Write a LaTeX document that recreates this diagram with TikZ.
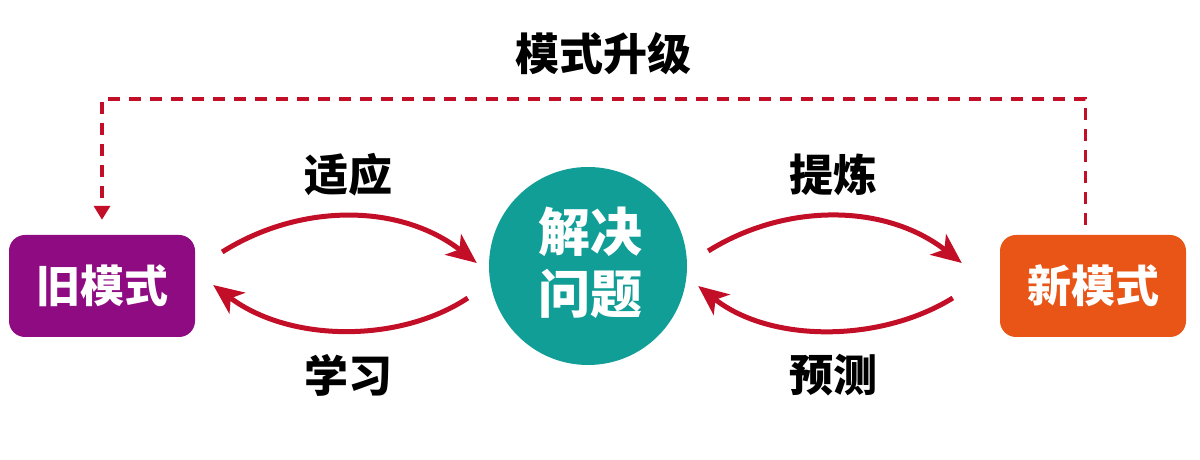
\documentclass[tikz,border=0pt]{standalone}
\usepackage{fontspec}
\setmainfont{Noto Sans CJK SC}
\usetikzlibrary{arrows.meta}
\definecolor{oldc}{HTML}{8E0B82}
\definecolor{newc}{HTML}{E85516}
\definecolor{teal}{HTML}{109E97}
\definecolor{arr}{HTML}{C20E26}
\tikzset{
  x=1pt,y=1pt,
  modebox/.style={rounded corners=16pt, minimum width=186pt, minimum height=102pt, inner sep=0pt, text=white, font=\bfseries\fontsize{44}{52}\selectfont},
  curvearrow/.style={draw=arr, line width=5pt, -{Stealth[length=30pt,width=26pt,inset=8pt]}},
  lbl/.style={font=\bfseries\fontsize{44}{52}\selectfont, text=black},
  dashline/.style={draw=arr, line width=3.5pt, dash pattern=on 12pt off 9pt, -{Triangle[length=14pt,width=16pt]}}
}
\begin{document}
\begin{tikzpicture}
\useasboundingbox (0,0) rectangle (1200,460);
\node[modebox, fill=oldc] (old) at (102,174) {旧模式};
\node[modebox, fill=newc] (new) at (1093,174) {新模式};
\node[circle, fill=teal, minimum size=198pt, inner sep=0pt] (solve) at (588,194) {};
\node[text=white, align=center, font=\bfseries\fontsize{52}{62}\selectfont] (solvetext) at (590,197) {解决\\问题};
% arrows
\draw[curvearrow] ([shift={(27,34)}]old.east) .. controls (300,257) and (400,257) .. ([shift={(-12,3)}]solve.west);
\draw[curvearrow] ([shift={(-21,-32)}]solve.west) .. controls (400,117) and (290,117) .. ([shift={(18,1)}]old.east);
\draw[curvearrow] ([shift={(21,15)}]solve.east) .. controls (785,257) and (885,257) .. ([shift={(-38,23)}]new.west);
\draw[curvearrow] ([shift={(-47,-12)}]new.west) .. controls (880,117) and (770,117) .. ([shift={(11,-20)}]solve.east);
% labels
\node[lbl] (l1) at (348,285) {适应};
\node[lbl] (l2) at (348,85) {学习};
\node[lbl] (l3) at (833,285) {提炼};
\node[lbl] (l4) at (833,85) {预测};
\node[lbl] (up) at (603,406) {模式升级};
% dashed upgrade
\draw[dashline] ([shift={(-7.5,10)}]new.north) -- ++(0,126) -| ([yshift=15pt]old.north);
\end{tikzpicture}
\end{document}
